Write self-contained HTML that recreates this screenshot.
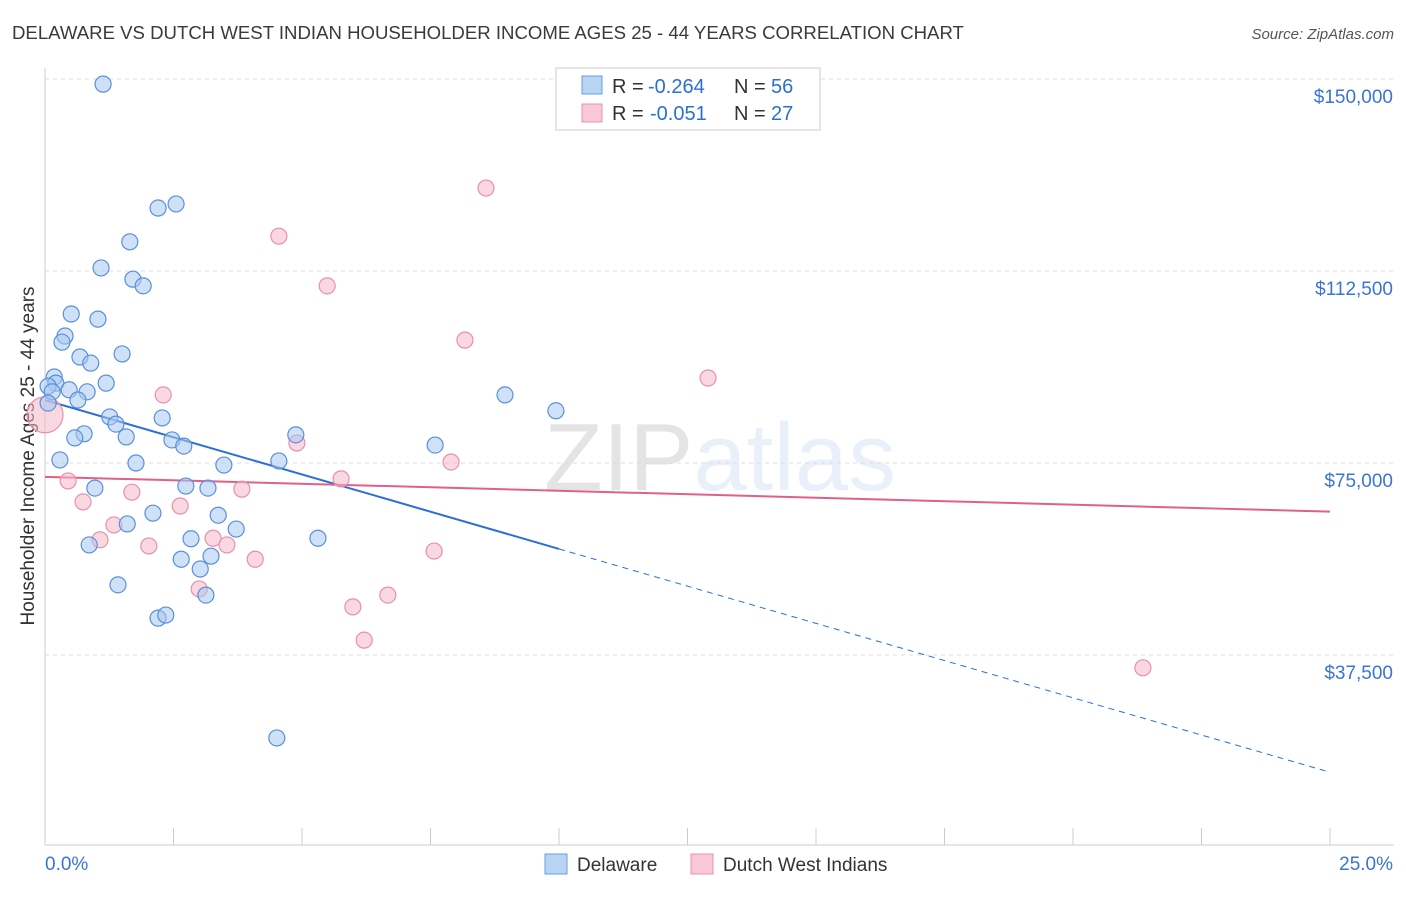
<!DOCTYPE html>
<html><head><meta charset="utf-8">
<style>
body{margin:0;background:#fff;font-family:"Liberation Sans",sans-serif;}
svg text{font-family:"Liberation Sans",sans-serif;}
</style></head>
<body>
<svg id="chart" width="1406" height="892" viewBox="0 0 1406 892" xmlns="http://www.w3.org/2000/svg">
<text x="12" y="39" font-size="18.6" fill="#3a3a3a">DELAWARE VS DUTCH WEST INDIAN HOUSEHOLDER INCOME AGES 25 - 44 YEARS CORRELATION CHART</text>
<text x="1394" y="39" font-size="15" fill="#555" font-style="italic" text-anchor="end">Source: ZipAtlas.com</text>
<text x="720" y="490" font-size="96" text-anchor="middle" fill="#000" opacity="0.1" font-family="Liberation Serif">ZIP<tspan fill="#3a74d6" font-family="Liberation Sans">atlas</tspan></text>
<text transform="translate(34,456) rotate(-90)" font-size="19" fill="#333" text-anchor="middle">Householder Income Ages 25 - 44 years</text>
<g id="grid"></g>
<g id="axes"></g>
<g id="lines"></g>
<g id="points"></g>
<g>
<rect x="556" y="68" width="264" height="62" fill="#fff" stroke="#ccc"/>
<rect x="582" y="76" width="20" height="18" fill="#b8d4f5" stroke="#6a9de0"/>
<text x="612" y="93" font-size="20" fill="#333">R =</text>
<text x="648" y="93" font-size="20" fill="#2a6fd6">-0.264</text>
<text x="734" y="93" font-size="20" fill="#333">N =</text>
<text x="771" y="93" font-size="20" fill="#2a6fd6">56</text>
<rect x="582" y="104" width="20" height="18" fill="#f9c8d6" stroke="#e890ab"/>
<text x="612" y="120" font-size="20" fill="#333">R =</text>
<text x="650" y="120" font-size="20" fill="#2a6fd6">-0.051</text>
<text x="734" y="120" font-size="20" fill="#333">N =</text>
<text x="771" y="120" font-size="20" fill="#2a6fd6">27</text>
</g>
<g>
<rect x="545" y="854" width="22" height="20" fill="#b8d4f5" stroke="#6a9de0"/>
<text x="577" y="871" font-size="19" fill="#333">Delaware</text>
<rect x="691" y="854" width="22" height="20" fill="#f9c8d6" stroke="#e890ab"/>
<text x="723" y="871" font-size="19" fill="#333">Dutch West Indians</text>
</g>
</svg>
<script>
const yTicks=[37500,75000,112500,150000];
const yTickLabels=["$37,500","$75,000","$112,500","$150,000"];
const xTickLabels=["0.0%","25.0%"];
const blueX=[1.13,2.20,2.55,1.65,1.09,1.71,1.91,0.51,1.03,0.39,0.33,1.50,0.68,0.89,0.18,0.21,1.19,0.06,0.47,0.82,0.14,0.64,0.06,1.26,2.28,1.38,0.76,0.58,1.58,2.47,2.70,4.88,7.59,8.95,9.94,0.29,1.77,3.48,4.55,0.97,2.74,3.17,2.10,3.37,1.60,3.72,5.31,0.86,2.84,2.65,3.23,3.02,1.42,3.13,2.20,2.35,4.51];
const blueY=[149000,124800,125600,118200,113100,110900,109600,104100,103100,99800,98600,96300,95700,94500,91800,90600,90600,90000,89300,88900,88900,87300,86700,84000,83800,82600,80700,79900,80100,79500,78300,80500,78500,88300,85200,75600,75000,74600,75400,70100,70500,70100,65200,64800,63100,62100,60300,59000,60200,56200,56800,54300,51200,49200,44700,45300,21300];
const pinkX=[0,8.58,4.55,5.49,8.17,12.90,2.30,4.90,7.90,5.76,0.45,3.83,1.69,0.74,2.63,1.34,1.07,3.27,3.54,2.02,4.09,7.57,3.00,6.67,5.99,6.21,21.36];
const pinkY=[84400,128700,119300,109600,99000,91600,88300,78900,75200,71900,71500,69900,69300,67400,66600,62900,60000,60300,59000,58800,56200,57800,50400,49200,46900,40400,35000];
const blueTrend=[87300,14600];
const pinkTrend=[72300,65500];
const NS="http://www.w3.org/2000/svg";
const X=p=>45+p*51.4;
const Y=v=>847-v/37500*192;
function mk(tag,attrs,parent){const e=document.createElementNS(NS,tag);for(const k in attrs)e.setAttribute(k,attrs[k]);parent.appendChild(e);return e;}
const grid=document.getElementById('grid'),axes=document.getElementById('axes'),lines=document.getElementById('lines'),pts=document.getElementById('points');
yTicks.forEach((t,i)=>{
 const l=mk('line',{x1:45,x2:1394,y1:Y(t),y2:Y(t),stroke:'#ddd','stroke-dasharray':'4,4'},grid);
 
 
 const tx=mk('text',{x:1393,y:Y(t)+24,'font-size':19,fill:'#3a74d6','text-anchor':'end'},axes);
 tx.textContent=yTickLabels[i];
 
 
});
const ax=mk('line',{x1:45,x2:1394,y1:845,y2:845,stroke:'#ccc'},axes);


const ay=mk('line',{x1:45,x2:45,y1:68,y2:845,stroke:'#ccc'},axes);


for(let i=0;i<=10;i++){
 const t=mk('line',{x1:X(i*2.5),x2:X(i*2.5),y1:828,y2:845,stroke:'#ccc'},axes);
 
 
}
[[0,45,'start'],[1,1393,'end']].forEach(([i,x,a])=>{
 const t=mk('text',{x:x,y:870,'font-size':19,fill:'#3a74d6','text-anchor':a},axes);
 t.textContent=xTickLabels[i];
 
 
});
function drawPts(xs,ys,fill,stroke,name){
 xs.forEach((x,i)=>{
  const c=mk('circle',{cx:X(x),cy:Y(ys[i]),r:(name==='pink-point'&&i===0)?18:8,fill:fill,'fill-opacity':0.55,stroke:stroke,'stroke-width':1.2},pts);
  
  
 });
}
drawPts(pinkX,pinkY,'#f6b8cb','#e890ab','pink-point');
drawPts(blueX,blueY,'#a8c8f0','#5a8fdc','blue-point');
const bv=p=>blueTrend[0]+(blueTrend[1]-blueTrend[0])*p/25;
const b1=mk('line',{x1:X(0),y1:Y(bv(0)),x2:X(10),y2:Y(bv(10)),stroke:'#2a6fd6','stroke-width':2},lines);


const b2=mk('line',{x1:X(10),y1:Y(bv(10)),x2:X(25),y2:Y(bv(25)),stroke:'#2a6fd6','stroke-width':1,'stroke-dasharray':'6,5'},lines);


const p1=mk('line',{x1:X(0),y1:Y(pinkTrend[0]),x2:X(25),y2:Y(pinkTrend[1]),stroke:'#e0608a','stroke-width':2},lines);


</script>
</body></html>
